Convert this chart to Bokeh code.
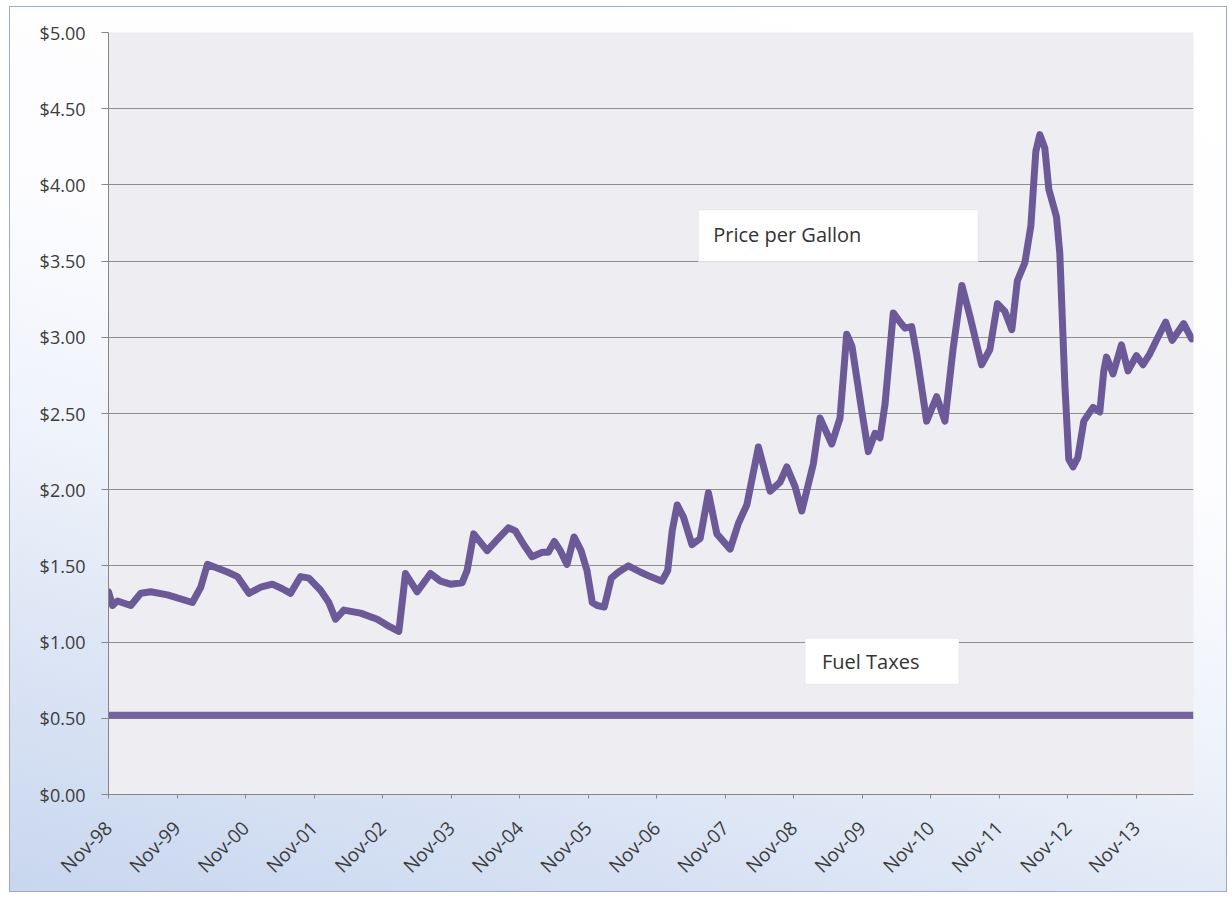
import math
from bokeh.plotting import figure
from bokeh.models import Range1d, FixedTicker, NumeralTickFormatter, BoxAnnotation, Label
from bokeh.embed import file_html
from bokeh.resources import INLINE

# ---- data (months since Nov-1998, price in $/gallon) ----
month = [0.0, 0.7, 1.57, 3.9, 5.65, 7.4, 10.32, 14.69, 16.15, 17.32, 18.77, 20.82, 22.57,
         24.6, 26.64, 28.69, 30.44, 31.89, 33.64, 35.09, 37.14, 38.59, 39.76, 41.21, 44.14,
         47.06, 48.8, 50.84, 52.01, 54.05, 56.38, 58.13, 59.88, 61.93, 62.8, 63.95, 66.3,
         68.28, 70.03, 71.25, 72.7, 74.17, 75.97, 77.02, 78.07, 79.12, 80.29, 81.52, 82.76,
         83.79, 84.72, 85.59, 86.82, 88.04, 89.32, 91.02, 93.12, 94.87, 96.91, 97.93, 98.71,
         99.59, 100.69, 102.16, 103.61, 105.06, 106.53, 108.86, 110.31, 111.78, 113.81,
         115.86, 117.61, 118.78, 120.23, 121.4, 123.43, 124.6, 126.65, 128.1, 129.27, 130.2,
         131.9, 133.05, 134.23, 135.1, 135.98, 137.43, 138.6, 139.47, 140.65, 141.52, 143.27,
         145.02, 146.47, 147.92, 149.44, 150.84, 152.89, 154.34, 155.66, 156.97, 158.19,
         159.15, 160.47, 161.52, 162.39, 163.09, 163.97, 164.67, 166.01, 166.59, 167.46,
         168.16, 168.91, 169.74, 170.79, 172.41, 173.59, 174.29, 174.76, 175.91, 177.38,
         178.53, 180.0, 181.16, 182.33, 183.64, 185.13, 186.27, 188.28, 189.68]
price = [1.33, 1.24, 1.27, 1.24, 1.32, 1.33, 1.31, 1.26, 1.36, 1.51, 1.49, 1.46, 1.43,
         1.32, 1.36, 1.38, 1.35, 1.32, 1.43, 1.42, 1.34, 1.26, 1.15, 1.21, 1.19,
         1.15, 1.11, 1.07, 1.45, 1.33, 1.45, 1.40, 1.38, 1.39, 1.47, 1.71, 1.60,
         1.68, 1.75, 1.73, 1.64, 1.56, 1.59, 1.59, 1.66, 1.60, 1.51, 1.69, 1.60,
         1.47, 1.26, 1.24, 1.23, 1.42, 1.46, 1.50, 1.46, 1.43, 1.40, 1.47, 1.73,
         1.90, 1.82, 1.64, 1.68, 1.98, 1.71, 1.61, 1.78, 1.90, 2.28,
         1.99, 2.05, 2.15, 2.02, 1.86, 2.17, 2.47, 2.30, 2.47, 3.02, 2.94,
         2.52, 2.25, 2.37, 2.34, 2.56, 3.16, 3.10, 3.06, 3.07, 2.89, 2.45,
         2.61, 2.45, 2.93, 3.34, 3.14, 2.82, 2.92, 3.22, 3.17, 3.05,
         3.37, 3.49, 3.73, 4.22, 4.33, 4.24, 3.97, 3.79, 3.55, 2.70,
         2.20, 2.15, 2.21, 2.45, 2.54, 2.51, 2.78, 2.87, 2.76, 2.95,
         2.78, 2.88, 2.82, 2.89, 2.99, 3.10, 2.98, 3.09, 2.99]
fuel_tax_month = [0.0, 190.0]
fuel_tax = [0.52, 0.52]

x_tick_values = [0, 12, 24, 36, 48, 60, 72, 84, 96, 108, 120, 132, 144, 156, 168, 180]
x_tick_labels = ["Nov-98", "Nov-99", "Nov-00", "Nov-01", "Nov-02", "Nov-03", "Nov-04",
                 "Nov-05", "Nov-06", "Nov-07", "Nov-08", "Nov-09", "Nov-10", "Nov-11",
                 "Nov-12", "Nov-13"]
y_tick_values = [0, 0.5, 1.0, 1.5, 2.0, 2.5, 3.0, 3.5, 4.0, 4.5, 5.0]

LINE = "#6C5A98"
FONT = "Open Sans"

p = figure(width=1218, height=886, output_backend="svg", toolbar_location=None,
           x_range=Range1d(0, 190), y_range=Range1d(0, 5),
           min_border_left=98, min_border_right=35, min_border_top=25, min_border_bottom=99)

p.background_fill_color = "#EEEDF2"
p.border_fill_color = None
p.outline_line_color = None
p.styles = {
    "margin-left": "9px",
    "margin-top": "6px",
    "border": "1px solid #9DAAC0",
    "background": "linear-gradient(195deg, #ffffff 0%, #fdfdff 40%, #eef2fa 62%, #d9e3f4 82%, #c8d6ee 100%)",
}

# axes
p.xaxis.ticker = FixedTicker(ticks=x_tick_values)
p.xaxis.major_label_overrides = {t: l for t, l in zip(x_tick_values, x_tick_labels)}
p.xaxis.major_label_orientation = math.pi / 4
p.xaxis.minor_tick_line_color = None
p.xaxis.major_tick_out = 4
p.xaxis.major_tick_in = 0
p.xaxis.major_label_standoff = 26
p.xaxis.major_label_text_font_size = "19px"

p.yaxis.ticker = FixedTicker(ticks=y_tick_values)
p.yaxis.formatter = NumeralTickFormatter(format="$0.00")
p.yaxis.minor_tick_line_color = None
p.yaxis.major_tick_out = 7
p.yaxis.major_tick_in = 0
p.yaxis.major_label_standoff = 16
p.yaxis.major_label_text_font_size = "18px"

for ax in (p.xaxis, p.yaxis):
    ax.axis_line_color = "#868686"
    ax.major_tick_line_color = "#868686"
    ax.major_label_text_font = FONT
    ax.major_label_text_color = "#3C3C3C"

p.xgrid.grid_line_color = None
p.ygrid.ticker = FixedTicker(ticks=y_tick_values)
p.ygrid.grid_line_color = "#8E8E8E"
p.ygrid.grid_line_width = 1

# series
p.line(fuel_tax_month, fuel_tax, line_color="#7563A0", line_width=7)
p.line(month, price, line_color=LINE, line_width=7, line_join="round", line_cap="round")

# text boxes
p.add_layout(BoxAnnotation(left=103.3, right=152.3, bottom=3.495, top=3.836,
                           fill_color="white", fill_alpha=1, line_color="#D2D2D2", line_width=1))
p.add_layout(Label(x=105.9, y=3.675, text="Price per Gallon", text_font=FONT,
                   text_font_size="20px", text_color="#333333", text_baseline="middle"))
p.add_layout(BoxAnnotation(left=121.98, right=148.92, bottom=0.723, top=1.026,
                           fill_color="white", fill_alpha=1, line_color="#D2D2D2", line_width=1))
p.add_layout(Label(x=124.95, y=0.87, text="Fuel Taxes", text_font=FONT,
                   text_font_size="20px", text_color="#333333", text_baseline="middle"))

open("out.html", "w").write(file_html(p, INLINE))
